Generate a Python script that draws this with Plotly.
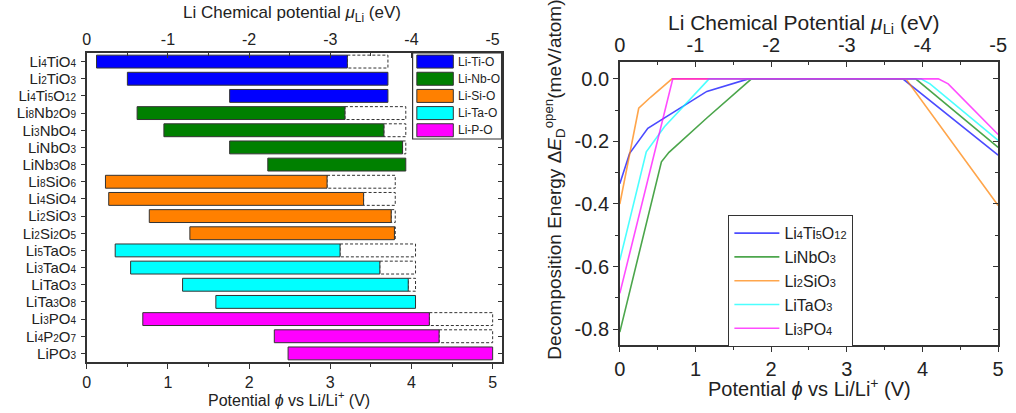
import re
import plotly.graph_objects as go

W, H = 1016, 413
FONT = "Liberation Sans, Arial, sans-serif"
INK = "#222222"
FRAME = "#333333"

# ---------------- left panel: stability windows ----------------
compounds = [
    "Li4TiO4", "Li2TiO3", "Li4Ti5O12",
    "Li8Nb2O9", "Li3NbO4", "LiNbO3", "LiNb3O8",
    "Li8SiO6", "Li4SiO4", "Li2SiO3", "Li2Si2O5",
    "Li5TaO5", "Li3TaO4", "LiTaO3", "LiTa3O8",
    "Li3PO4", "Li4P2O7", "LiPO3",
]
system = ["Li-Ti-O"] * 3 + ["Li-Nb-O"] * 4 + ["Li-Si-O"] * 4 + ["Li-Ta-O"] * 4 + ["Li-P-O"] * 3
window_low = [0.12, 0.50, 1.76, 0.62, 0.95, 1.76, 2.23, 0.23, 0.27, 0.77, 1.27,
              0.35, 0.54, 1.18, 1.59, 0.69, 2.31, 2.48]
window_high = [3.21, 3.71, 3.71, 3.18, 3.66, 3.89, 3.93, 2.96, 3.41, 3.75, 3.79,
               3.12, 3.61, 3.96, 4.05, 4.22, 4.34, 5.00]
oxidation_limit = [3.71, 3.71, 3.71, 3.93, 3.93, 3.93, 3.93, 3.80, 3.80, 3.80, 3.80,
                   4.05, 4.05, 4.05, 4.05, 5.00, 5.00, 5.00]
systems = ["Li-Ti-O", "Li-Nb-O", "Li-Si-O", "Li-Ta-O", "Li-P-O"]
system_colors = ["#0000FF", "#008000", "#FF8000", "#00FFFF", "#FF00FF"]

# ---------------- right panel: decomposition energy ----------------
curve_names = ["Li4Ti5O12", "LiNbO3", "Li2SiO3", "LiTaO3", "Li3PO4"]
curve_colors = ["#0000FF", "#008000", "#FF8000", "#00FFFF", "#FF00FF"]
phi_lto = [0.0, 0.13, 0.37, 1.15, 1.70, 3.74, 5.0]
ed_lto = [-0.335, -0.238, -0.158, -0.040, 0.0, 0.0, -0.244]
phi_lnbo = [0.0, 0.55, 0.65, 1.15, 1.74, 3.91, 5.0]
ed_lnbo = [-0.81, -0.265, -0.235, -0.125, 0.0, 0.0, -0.219]
phi_lso = [0.0, 0.25, 0.41, 0.69, 3.78, 5.0]
ed_lso = [-0.40, -0.094, -0.058, 0.0, 0.0, -0.405]
phi_lta = [0.0, 0.35, 0.59, 1.18, 3.98, 4.10, 5.0]
ed_lta = [-0.58, -0.233, -0.153, 0.0, 0.0, -0.016, -0.197]
phi_lpo = [0.0, 0.70, 4.21, 4.34, 5.0]
ed_lpo = [-0.686, 0.0, 0.0, -0.016, -0.178]
curves_phi = [phi_lto, phi_lnbo, phi_lso, phi_lta, phi_lpo]
curves_ed = [ed_lto, ed_lnbo, ed_lso, ed_lta, ed_lpo]

# ---------------- layout geometry (px) ----------------
L_X0, L_X1, L_Y0, L_Y1 = 82, 503, 53, 362
R_X0, R_X1, R_Y0, R_Y1 = 623, 1007, 62, 345
L_XMAX = 5.11
BAR_W = 0.75


def formula(text, sub_size):
    """Stoichiometric digits drawn small, kept on the baseline."""
    return re.sub(r"(\d+)", lambda m: f'<span style="font-size:{sub_size}px">{m.group(1)}</span>', text)


def px(x):
    return x / W


def py(y):
    return 1 - y / H


fig = go.Figure()
rows = list(range(len(compounds)))

# dashed outline up to the oxidation limit of each system
for i in rows:
    if oxidation_limit[i] > window_high[i] + 1e-9:
        fig.add_shape(type="rect", xref="x", yref="y",
                      x0=window_high[i], x1=oxidation_limit[i],
                      y0=i - BAR_W / 2, y1=i + BAR_W / 2,
                      line=dict(color=FRAME, width=1, dash="3px,2px"),
                      fillcolor="rgba(0,0,0,0)", layer="below")

for s, c in zip(systems, system_colors):
    idx = [i for i in rows if system[i] == s]
    fig.add_trace(go.Bar(
        orientation="h",
        y=idx,
        base=[window_low[i] for i in idx],
        x=[window_high[i] - window_low[i] for i in idx],
        width=BAR_W,
        marker=dict(color=c, line=dict(color=FRAME, width=1)),
        name=s, showlegend=False, xaxis="x", yaxis="y",
    ))

# hand-drawn system key in the upper right corner of the left panel
box_x0, box_x1, box_y0, box_y1 = 412.7, 503, 53, 139
fig.add_shape(type="rect", xref="paper", yref="paper",
              x0=px(box_x0), x1=px(box_x1), y0=py(box_y1), y1=py(box_y0),
              line=dict(color=FRAME, width=1.2), fillcolor="white", layer="above")
row_px = (L_Y1 - L_Y0) / len(compounds)
for k, (s, c) in enumerate(zip(systems, system_colors)):
    yc = L_Y0 + row_px * (k + 0.5)
    fig.add_shape(type="rect", xref="paper", yref="paper",
                  x0=px(417), x1=px(454), y0=py(yc + 6.5), y1=py(yc - 6.5),
                  line=dict(color=FRAME, width=1), fillcolor=c, layer="above")
    fig.add_annotation(xref="paper", yref="paper", x=px(456.5), y=py(yc),
                       xanchor="left", yanchor="middle", text=s, showarrow=False,
                       font=dict(family=FONT, size=12, color=INK))

for k, (xs, ys, name, c) in enumerate(zip(curves_phi, curves_ed, curve_names, curve_colors)):
    fig.add_trace(go.Scatter(
        x=xs, y=ys, mode="lines", name=formula(name, 11), opacity=0.7,
        line=dict(color=c, width=1.6), xaxis="x3", yaxis="y3",
    ))

# ghost traces so that the mirrored axes are laid out
for xa, ya in (("x2", "y2"), ("x4", "y4")):
    fig.add_trace(go.Scatter(x=[None], y=[None], xaxis=xa, yaxis=ya,
                             showlegend=False, hoverinfo="skip"))

tick_font_l = dict(family=FONT, size=16, color=INK)
tick_font_r = dict(family=FONT, size=20, color=INK)
mu_ticks = [0, -1, -2, -3, -4, -5]
mu_text = ["0", "-1", "-2", "-3", "-4", "-5"]
ld = [px(L_X0), px(L_X1)]
rd = [px(R_X0), px(R_X1)]
lyd = [py(L_Y1), py(L_Y0)]
ryd = [py(R_Y1), py(R_Y0)]
ax_line = dict(showline=True, linecolor=FRAME, linewidth=1.5, showgrid=False, zeroline=False)

fig.update_layout(
    width=W, height=H, margin=dict(l=0, r=0, t=0, b=0),
    paper_bgcolor="white", plot_bgcolor="white",
    font=dict(family=FONT, color=INK),
    barmode="overlay",
    # left panel
    xaxis=dict(domain=ld, anchor="y", range=[0, L_XMAX], tickvals=[0, 1, 2, 3, 4, 5],
               ticks="outside", ticklen=5, tickwidth=1.2, tickcolor=FRAME, tickfont=tick_font_l,
               minor=dict(dtick=0.5, ticks="outside", ticklen=3, tickcolor=FRAME),
               **ax_line),
    xaxis2=dict(domain=ld, anchor="y", overlaying="x", side="top",
                range=[0, -L_XMAX], tickvals=mu_ticks, ticktext=mu_text,
                ticks="inside", ticklen=5, tickwidth=1.2, tickcolor=FRAME, tickfont=tick_font_l,
                minor=dict(dtick=0.5, ticks="inside", ticklen=3, tickcolor=FRAME),
                **ax_line),
    yaxis=dict(domain=lyd, anchor="x", range=[len(compounds) - 0.5, -0.5],
               tickvals=rows, ticktext=[formula(c, 10) for c in compounds],
               ticks="outside", ticklen=4,
               tickcolor=FRAME, tickfont=dict(family=FONT, size=15, color=INK),
               ticklabelstandoff=2, **ax_line),
    yaxis2=dict(domain=lyd, anchor="x", overlaying="y", side="right",
                range=[len(compounds) - 0.5, -0.5], tickvals=rows, showticklabels=False,
                ticks="inside", ticklen=4, tickcolor=FRAME, **ax_line),
    # right panel
    xaxis3=dict(domain=rd, anchor="y3", range=[0, 5], tickvals=[0, 1, 2, 3, 4, 5],
                ticks="outside", ticklen=5, tickwidth=1.2, tickcolor=FRAME, tickfont=tick_font_r,
                minor=dict(dtick=0.5, ticks="outside", ticklen=3, tickcolor=FRAME),
                **ax_line),
    xaxis4=dict(domain=rd, anchor="y3", overlaying="x3", side="top",
                range=[0, -5], tickvals=mu_ticks, ticktext=mu_text,
                ticks="inside", ticklen=5, tickwidth=1.2, tickcolor=FRAME, tickfont=tick_font_r,
                minor=dict(dtick=0.5, ticks="inside", ticklen=3, tickcolor=FRAME),
                **ax_line),
    yaxis3=dict(domain=ryd, anchor="x3", range=[-0.851, 0.054],
                tickvals=[0, -0.2, -0.4, -0.6, -0.8], ticktext=["0.0", "-0.2", "-0.4", "-0.6", "-0.8"],
                ticks="outside", ticklen=5, tickwidth=1.2, tickcolor=FRAME, tickfont=tick_font_r,
                minor=dict(dtick=0.1, ticks="outside", ticklen=3, tickcolor=FRAME),
                **ax_line),
    yaxis4=dict(domain=ryd, anchor="x3", overlaying="y3", side="right", range=[-0.851, 0.054],
                tickvals=[0, -0.2, -0.4, -0.6, -0.8], showticklabels=False,
                ticks="inside", ticklen=5, tickwidth=1.2, tickcolor=FRAME,
                minor=dict(dtick=0.1, ticks="inside", ticklen=3, tickcolor=FRAME),
                **ax_line),
    legend=dict(x=px(733), y=py(215), xanchor="left", yanchor="top",
                bgcolor="white", bordercolor=FRAME, borderwidth=1.2,
                font=dict(family=FONT, size=16, color=INK), itemwidth=45,
                tracegroupgap=0),
)

titles = [
    (px(290), py(14), "Li Chemical potential <i>μ</i><sub>Li</sub> (eV)", 17, 0),
    (px(287), py(399), "Potential <i>ϕ</i> vs Li/Li<sup>+</sup> (V)", 16, 0),
    (px(810), py(24), "Li Chemical Potential <i>μ</i><sub>Li</sub> (eV)", 21, 0),
    (px(816), py(387), "Potential <i>ϕ</i> vs Li/Li<sup>+</sup> (V)", 20, 0),
    (px(556), py(180), "Decomposition Energy Δ<i>E</i><sub>D</sub><sup>open</sup>(meV/atom)", 19, -90),
]
for x, y, t, s, ang in titles:
    fig.add_annotation(xref="paper", yref="paper", x=x, y=y, text=t, showarrow=False,
                       xanchor="center", yanchor="middle", textangle=ang,
                       font=dict(family=FONT, size=s, color=INK))

fig.write_html("out.html")
